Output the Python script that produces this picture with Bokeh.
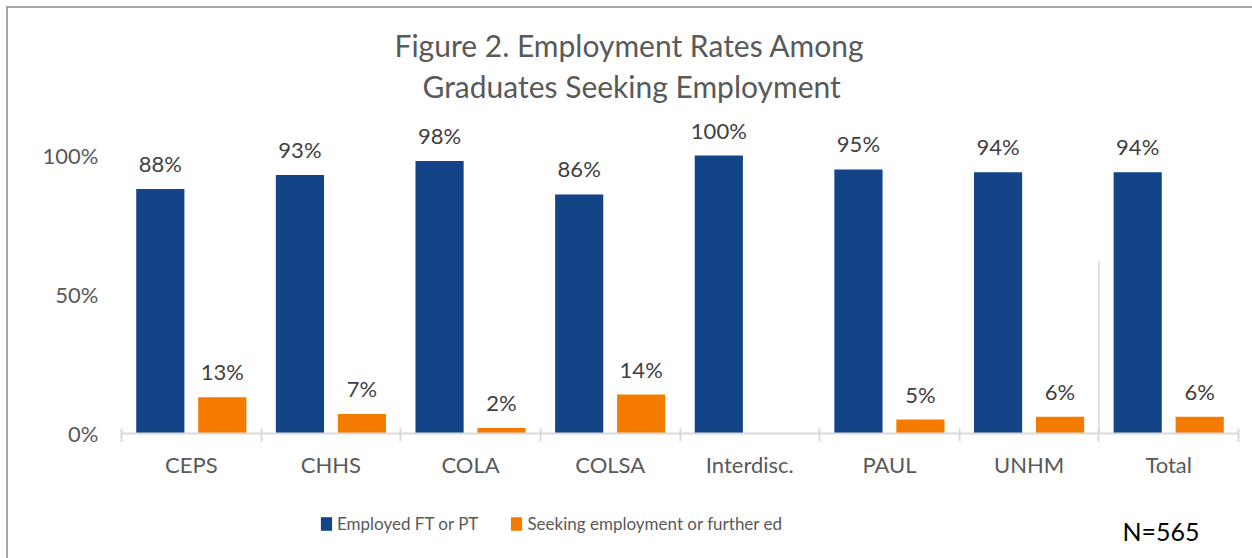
from bokeh.plotting import figure
from bokeh.layouts import column
from bokeh.models import (ColumnDataSource, Range1d, FixedTicker, Legend, LegendItem,
                          Title, Label)
from bokeh.core.properties import value
from bokeh.embed import file_html
from bokeh.resources import INLINE

# ---------------- data ----------------
categories = ["CEPS", "CHHS", "COLA", "COLSA", "Interdisc.", "PAUL", "UNHM", "Total"]
employed = [88, 93, 98, 86, 100, 95, 94, 94]
seeking = [13, 7, 2, 14, None, 5, 6, 6]
series_names = ["Employed FT or PT", "Seeking employment or further ed"]
y_ticks = [0, 50, 100]
y_tick_labels = ["0%", "50%", "100%"]
title_lines = ["Figure 2. Employment Rates Among", "Graduates Seeking Employment"]
note_text = "N=565"
separator_category = "Total"
separator_height = 62

# ---------------- style ----------------
FONT = "Lato"
BLUE = "#134487"
ORANGE = "#F57B00"
GRAY_TEXT = "#595959"
LABEL_TEXT = "#404040"
AXIS_GRAY = "#D9D9D9"
BORDER_GRAY = "#A6A6A6"
BAR_W = 0.345
OFFSET = 0.222
W = 1244
H_MAIN = 480
H_LEG = 70
LEFT = 113
RIGHT = 14

n = len(categories)
centers = [i + 0.5 for i in range(n)]
x_emp = [c - OFFSET for c in centers]
x_seek = [c + OFFSET for c in centers]
seek_vals = [float("nan") if v is None else v for v in seeking]

p = figure(width=W, height=H_MAIN, output_backend="svg", toolbar_location=None,
           x_range=Range1d(0, n), y_range=Range1d(0, 116.2),
           min_border_left=LEFT, min_border_right=RIGHT, min_border_top=102,
           min_border_bottom=H_MAIN - 425)
p.outline_line_color = None
p.xgrid.visible = False
p.ygrid.visible = False

# titles (first is farthest from the plot area)
p.title = Title(text=title_lines[0], align="left", text_font=FONT,
                text_font_size="30px", text_font_style="normal",
                text_color=GRAY_TEXT, offset=273, standoff=-7)
p.add_layout(Title(text=title_lines[1], align="left", text_font=FONT,
                   text_font_size="30px", text_font_style="normal",
                   text_color=GRAY_TEXT, offset=301, standoff=13), "above")

# bars
src_e = ColumnDataSource(dict(x=x_emp, top=employed,
                              lab=[f"{v}%" for v in employed]))
src_s = ColumnDataSource(dict(x=x_seek, top=seek_vals))
src_s_lab = ColumnDataSource(dict(
    x=[x for x, v in zip(x_seek, seeking) if v is not None],
    top=[v for v in seeking if v is not None],
    lab=[f"{v}%" for v in seeking if v is not None]))

p.vbar(x="x", top="top", width=BAR_W, source=src_e, fill_color=BLUE,
       line_color=None)
p.vbar(x="x", top="top", width=BAR_W, source=src_s, fill_color=ORANGE,
       line_color=None)

for s in (src_e, src_s_lab):
    p.text(x="x", y="top", text="lab", source=s, text_align="center",
           text_baseline="bottom", y_offset=-12, text_font=value(FONT),
           text_font_size="22px", text_color=LABEL_TEXT)

# separator line
sx = categories.index(separator_category)
p.segment(x0=[sx], x1=[sx], y0=[0], y1=[separator_height],
          line_color=AXIS_GRAY, line_width=1.5)

# x axis
xa = p.xaxis[0]
xa.ticker = FixedTicker(ticks=centers, minor_ticks=list(range(n + 1)))
xa.major_label_overrides = {c: lab for c, lab in zip(centers, categories)}
xa.major_tick_line_color = None
xa.major_tick_in = 0
xa.major_tick_out = 0
xa.minor_tick_line_color = AXIS_GRAY
xa.minor_tick_line_width = 2
xa.minor_tick_in = 5
xa.minor_tick_out = 8
xa.axis_line_color = AXIS_GRAY
xa.axis_line_width = 2
xa.major_label_standoff = 9
xa.major_label_text_font = FONT
xa.major_label_text_font_size = "22px"
xa.major_label_text_color = GRAY_TEXT

# y axis
ya = p.yaxis[0]
ya.ticker = FixedTicker(ticks=y_ticks)
ya.major_label_overrides = {t: l for t, l in zip(y_ticks, y_tick_labels)}
ya.axis_line_color = None
ya.major_tick_line_color = None
ya.minor_tick_line_color = None
ya.major_tick_in = 0
ya.major_tick_out = 0
ya.major_label_standoff = 23
ya.major_label_text_font = FONT
ya.major_label_text_font_size = "22px"
ya.major_label_text_color = GRAY_TEXT

# ---------------- legend strip ----------------
FW = W - LEFT - RIGHT
q = figure(width=W, height=H_LEG, output_backend="svg", toolbar_location=None,
           x_range=Range1d(0, FW), y_range=Range1d(0, H_LEG),
           x_axis_type=None, y_axis_type=None, min_border=0,
           min_border_left=LEFT, min_border_right=RIGHT)
q.outline_line_color = None
q.xgrid.visible = False
q.ygrid.visible = False

# legend swatches: same styling as the bars; zero-height, off-range keys
key_src = ColumnDataSource(dict(x=[-1000], top=[0]))
k1 = q.vbar(x="x", top="top", width=1, source=key_src, fill_color=BLUE,
            line_color=None)
k2 = q.vbar(x="x", top="top", width=1, source=key_src, fill_color=ORANGE,
            line_color=None)

legend = Legend(items=[LegendItem(label=series_names[0], renderers=[k1]),
                       LegendItem(label=series_names[1], renderers=[k2])],
                orientation="horizontal", location=(198, 24),
                padding=0, margin=0, spacing=31, label_standoff=4,
                glyph_width=14, glyph_height=17,
                label_text_font=FONT, label_text_font_size="17px",
                label_text_color=GRAY_TEXT,
                border_line_color=None, background_fill_alpha=0)
q.add_layout(legend, "center")

q.add_layout(Label(x=1039.5, y=28, text=note_text, text_align="center",
                   text_baseline="middle", text_font=FONT,
                   text_font_size="25px", text_color="black"))

layout = column(p, q, spacing=0,
                styles={"margin-left": "6px", "margin-top": "6px",
                        "border-left": f"2px solid {BORDER_GRAY}",
                        "border-top": f"2px solid {BORDER_GRAY}"})

open("out.html", "w").write(file_html(layout, INLINE))
